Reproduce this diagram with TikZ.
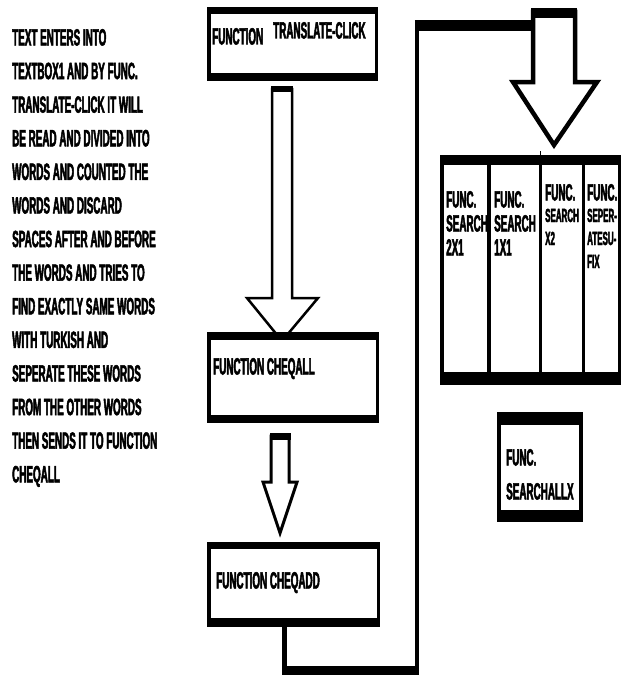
\documentclass[tikz,border=0pt]{standalone}
\usepackage{fontspec}
\newfontfamily\nar[FakeStretch=0.42, BoldFeatures={FakeBold=2}]{Liberation Sans}
\begin{document}
\begin{tikzpicture}[x=1pt,y=-1pt,
  lbl/.style={anchor=base west, inner sep=0pt, font=\nar\bfseries\fontsize{23.5}{23.5}\selectfont},
  sml/.style={anchor=base west, inner sep=0pt, font=\nar\bfseries\fontsize{19}{19}\selectfont},
  blk/.style={fill=black, draw=none},
  wht/.style={fill=white, draw=none},
  barrow/.style={draw=black, fill=white, line join=miter, miter limit=20},
  conn/.style={draw=black, line width=4.5pt}
  ]
\useasboundingbox (0,0) rectangle (621,677);
\fill[white] (0,0) rectangle (621,677);

% left description text
\foreach \t [count=\i] in {TEXT ENTERS INTO, TEXTBOX1 AND BY FUNC., TRANSLATE-CLICK IT WILL, BE READ AND DIVIDED INTO, WORDS AND COUNTED THE, WORDS AND DISCARD, SPACES AFTER AND BEFORE, THE WORDS AND TRIES TO, FIND EXACTLY SAME WORDS, WITH TURKISH AND, SEPERATE THESE WORDS, FROM THE OTHER WORDS, THEN SENDS IT TO FUNCTION, CHEQALL}
  \node[lbl] (desc\i) at (12,{45.5+(\i-1)*33.6}) {\t};

% arrow 1
\draw[barrow, line width=2.5pt] (272,89) -- (292,89) -- (292,298) -- (318,298) -- (282,341) -- (247,298) -- (272,298) -- cycle;
\fill (270.75,86) rectangle (293.25,92);

% arrow 2
\draw[barrow, line width=3pt] (271,436) -- (289,436) -- (289,482) -- (297,482) -- (280,533) -- (263,482) -- (271,482) -- cycle;
\fill (269.5,433) rectangle (290.5,440);

% box 1
\node[blk, inner sep=0pt, minimum width=171pt, minimum height=74pt] (b1) at (292.5,44) {};
\fill[wht] (211,14) rectangle (375,73);
\node[lbl] (b1a) at (212,44.5) {FUNCTION};
\node[lbl] (b1b) at (273,38.5) {TRANSLATE-CLICK};

% box 2
\node[blk, inner sep=0pt, minimum width=172pt, minimum height=91pt] (b2) at (293,377.5) {};
\fill[wht] (211,340) rectangle (376,415);
\node[lbl] (b2a) at (213,374.5) {FUNCTION CHEQALL};

% box 3
\node[blk, inner sep=0pt, minimum width=173pt, minimum height=85pt] (b3) at (293.5,584.5) {};
\fill[wht] (211,549) rectangle (377,618);
\node[lbl] (b3a) at (216,588.5) {FUNCTION CHEQADD};

% connector from box 3 round to the big arrow
\coordinate (c1) at (284.5,626);
\coordinate (c2) at (284.5,670);
\coordinate (c3) at (417,670);
\coordinate (c4) at (417,25.5);
\coordinate (c5) at (535,25.5);
\draw[conn] (c1) -- (c2) -- (c3) -- (c4) -- (c5);
\draw[line width=9pt] ([xshift=-2.25pt]c2) -- ([xshift=2.25pt]c3);
\draw[line width=11pt] ([xshift=-2.25pt]c4) -- (c5);

% arrow 3
\draw[barrow, line width=4.5pt] (533,12) -- (575,12) -- (575,82) -- (597,82) -- (554,145) -- (513,82) -- (533,82) -- cycle;
\fill (530.75,8) rectangle (577.25,18);

% function group
\node[blk, inner sep=0pt, minimum width=181pt, minimum height=230pt] (grp) at (530.5,270) {};
\fill[wht] (444,165) rectangle (618,372);
\fill[blk] (487,165) rectangle (491,372);
\fill[blk] (539,165) rectangle (542,372);
\fill[blk] (582,165) rectangle (585,372);
\draw[line width=1.5pt] (540.5,151) -- (540.5,156);

\node[lbl] (g1a) at (446,207.5) {FUNC.};
\node[lbl] (g1b) at (446,231.5) {SEARCH};
\node[lbl] (g1c) at (446,255.5) {2X1};
\node[lbl] (g2a) at (494,207.5) {FUNC.};
\node[lbl] (g2b) at (494,231.5) {SEARCH};
\node[lbl] (g2c) at (494,255.5) {1X1};
\node[lbl] (g3a) at (545,200.5) {FUNC.};
\node[sml] (g3b) at (545,222) {SEARCH};
\node[sml] (g3c) at (545,245) {X2};
\node[lbl] (g4a) at (587,200.5) {FUNC.};
\node[sml] (g4b) at (587,222) {SEPER-};
\node[sml] (g4c) at (587,245) {ATESU-};
\node[sml] (g4d) at (587,268) {FIX};

% searchallx box
\node[blk, inner sep=0pt, minimum width=86pt, minimum height=110pt] (sx) at (540,467) {};
\fill[wht] (501,425) rectangle (579,510);
\node[lbl] (sxa) at (506,465.5) {FUNC.};
\node[lbl] (sxb) at (506,499.5) {SEARCHALLX};
\end{tikzpicture}
\end{document}
